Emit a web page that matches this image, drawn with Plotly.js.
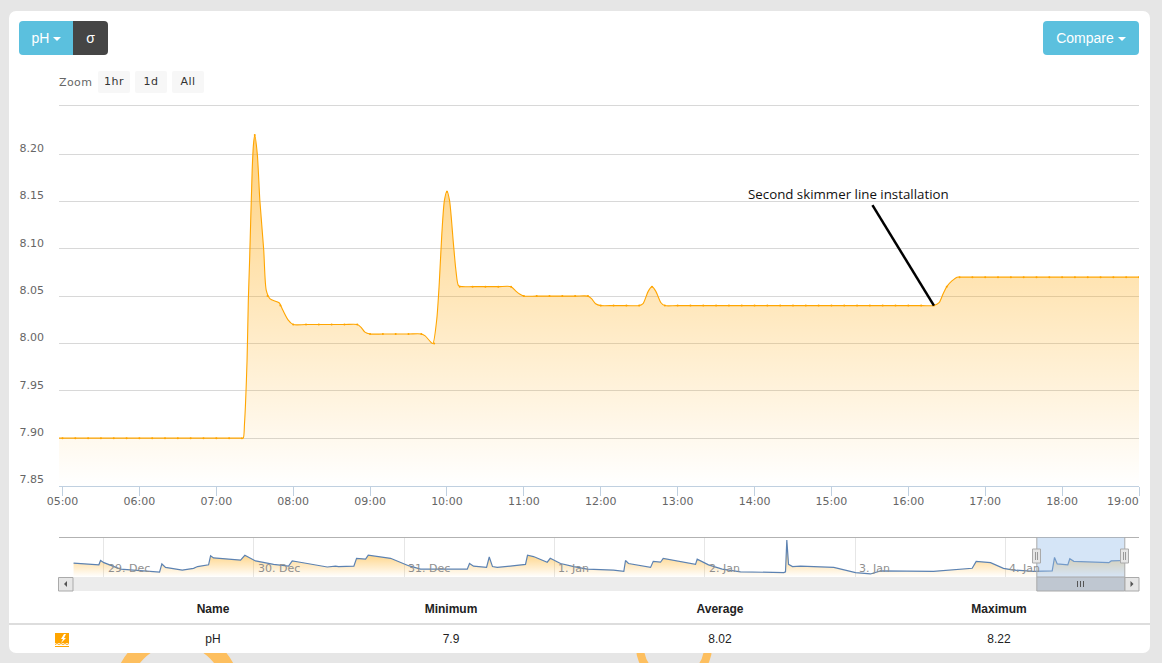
<!DOCTYPE html>
<html>
<head>
<meta charset="utf-8">
<script src="https://cdn.plot.ly/plotly-3.0.1.min.js"></script>
<style>
html,body{margin:0;padding:0;width:1162px;height:663px;overflow:hidden;background:#e6e6e6;font-family:"Liberation Sans",Arial,sans-serif;}
.ring{position:absolute;border-radius:50%;border-style:solid;border-color:#fdbf5f;box-sizing:border-box;}
#panel{position:absolute;left:9px;top:11px;width:1141px;height:642px;background:#fff;border-radius:7px;}
#chart{position:absolute;left:0;top:0;width:1162px;height:663px;}
.btn{position:absolute;top:21px;height:34px;line-height:34px;text-align:center;color:#fff;font-size:14px;box-sizing:border-box;}
.caret{display:inline-block;width:0;height:0;margin-left:4px;vertical-align:middle;border-top:4px solid #fff;border-left:4px solid transparent;border-right:4px solid transparent;}
.zb{position:absolute;top:71px;height:22px;width:32px;text-align:center;background:#f7f7f7;color:#333;font:11px/21px "DejaVu Sans",sans-serif;letter-spacing:.5px;border-radius:2px;}
#zl{position:absolute;left:59px;top:76px;font:11px/14px "DejaVu Sans",sans-serif;letter-spacing:.4px;color:#666;}
.hr{position:absolute;left:9px;width:1141px;height:2px;background:#ddd;top:623px;}
.cell{position:absolute;width:200px;margin-left:-100px;text-align:center;font-size:12px;color:#222;line-height:14px;}
.h{font-weight:bold;top:602px;}
.v{top:632px;}
#icon{position:absolute;left:55px;top:633px;}
</style>
</head>
<body>
<div class="ring" style="left:114px;top:629px;width:126px;height:126px;border-width:16px;"></div>
<div class="ring" style="left:636px;top:609px;width:76px;height:76px;border-width:8px;"></div>
<div id="panel"></div>
<div id="chart"></div>
<div class="btn" style="left:19px;width:54px;background:#5bc0de;border-radius:4px 0 0 4px;padding-left:1px;">pH<span class="caret"></span></div>
<div class="btn" style="left:73px;width:35px;background:#454545;border-radius:0 4px 4px 0;">σ</div>
<div class="btn" style="left:1043px;width:96px;background:#5bc0de;border-radius:4px;">Compare<span class="caret"></span></div>
<div id="zl">Zoom</div>
<div class="zb" style="left:98px;">1hr</div>
<div class="zb" style="left:135px;">1d</div>
<div class="zb" style="left:172px;">All</div>
<div class="hr"></div>
<div id="table"></div>
<svg id="icon" width="15" height="14" viewBox="0 0 15 14"><rect x="0" y="0" width="14" height="10" fill="#ffa500"/><path d="M9 1L6 6h2L6 10l5-5H9l2-4z" fill="#fff"/><path d="M0 11.5l2-1 2 1 2-1 2 1 2-1 2 1 2-1" stroke="#ffa500" fill="none"/><rect x="0" y="13" width="14" height="1" fill="#ffa500"/></svg>
<script>
// ---------- main series: logged points (10 min) ----------
const mainDay = "2016-01-04 ";
const mainTimes = ["04:50","05:00","05:10","05:20","05:30","05:40","05:50","06:00","06:10","06:20","06:30","06:40","06:50","07:00","07:10","07:20","07:30","07:40","07:50","08:00","08:10","08:20","08:30","08:40","08:50","09:00","09:10","09:20","09:30","09:40","09:50","10:00","10:10","10:20","10:30","10:40","10:50","11:00","11:10","11:20","11:30","11:40","11:50","12:00","12:10","12:20","12:30","12:40","12:50","13:00","13:10","13:20","13:30","13:40","13:50","14:00","14:10","14:20","14:30","14:40","14:50","15:00","15:10","15:20","15:30","15:40","15:50","16:00","16:10","16:20","16:30","16:40","16:50","17:00","17:10","17:20","17:30","17:40","17:50","18:00","18:10","18:20","18:30","18:40","18:50","19:00"];
const mainPH = [7.9,7.9,7.9,7.9,7.9,7.9,7.9,7.9,7.9,7.9,7.9,7.9,7.9,7.9,7.9,7.9,8.22,8.05,8.04,8.02,8.02,8.02,8.02,8.02,8.02,8.01,8.01,8.01,8.01,8.01,8.0,8.16,8.06,8.06,8.06,8.06,8.06,8.05,8.05,8.05,8.05,8.05,8.05,8.04,8.04,8.04,8.04,8.06,8.04,8.04,8.04,8.04,8.04,8.04,8.04,8.04,8.04,8.04,8.04,8.04,8.04,8.04,8.04,8.04,8.04,8.04,8.04,8.04,8.04,8.04,8.06,8.07,8.07,8.07,8.07,8.07,8.07,8.07,8.07,8.07,8.07,8.07,8.07,8.07,8.07,8.07];
// ---------- main series: drawn curve ----------
const curveTimes = ["04:50","07:10","07:19","07:21","07:22","07:24","07:25","07:26","07:28","07:29","07:30","07:32","07:34","07:37","07:39","07:42","07:49","07:52","07:56","08:00","08:10","08:40","08:50","08:53","08:56","09:00","09:10","09:30","09:40","09:43","09:47","09:49","09:52","09:54","09:56","09:58","10:00","10:02","10:05","10:07","10:09","10:12","10:20","10:40","10:50","10:54","10:57","11:00","11:10","11:40","11:50","11:53","11:56","12:00","12:10","12:20","12:30","12:33","12:37","12:40","12:43","12:47","12:50","13:00","16:10","16:20","16:24","16:27","16:30","16:34","16:38","16:42","16:50","19:00"];
const curvePH = [7.9,7.9,7.9,7.9,7.915,7.982,8.046,8.088,8.183,8.21,8.22,8.2,8.151,8.099,8.056,8.047,8.043,8.035,8.025,8.02,8.02,8.02,8.02,8.017,8.012,8.01,8.01,8.01,8.01,8.008,8.002,8.0,8.025,8.064,8.116,8.151,8.161,8.151,8.106,8.077,8.061,8.06,8.06,8.06,8.06,8.055,8.052,8.05,8.05,8.05,8.05,8.047,8.042,8.04,8.04,8.04,8.04,8.042,8.055,8.06,8.055,8.043,8.04,8.04,8.04,8.04,8.043,8.052,8.06,8.066,8.07,8.07,8.07,8.07];
const xTickTimes = ["05:00","06:00","07:00","08:00","09:00","10:00","11:00","12:00","13:00","14:00","15:00","16:00","17:00","18:00","19:00"];
const yTickVals = [7.85,7.9,7.95,8.0,8.05,8.1,8.15,8.2];
const yTickText = ["7.85","7.90","7.95","8.00","8.05","8.10","8.15","8.20"];
const mainRangeTimes = ["04:57:16","19:00"];
const mainRangeY = [7.8495,8.2518];

// ---------- annotation ----------
const noteText = "Second skimmer line installation";
const noteTextAt = ["15:13",8.158];
const noteLineFrom = ["15:32",8.146];
const noteLineTo = ["16:20",8.04];

// ---------- navigator series (hours after 29 Dec 00:00, pH) ----------
const navHours = [-4.79,-0.75,-0.48,0.05,2.71,4.79,7.03,8.94,9.31,9.9,12.57,14.37,15.01,16.77,17.09,17.56,21.88,22.56,24.27,27.15,29.54,30.13,30.93,35.72,37.05,37.52,39.97,40.4,41.84,42.27,45.83,47.42,48.7,50.62,58.08,58.44,59.08,61.16,61.59,62.11,62.87,67.38,67.7,68.66,70.85,71.33,72.97,75.1,77.24,81.44,83.08,83.35,83.83,87.35,87.78,88.94,89.37,94.53,94.8,96.61,98.79,101.72,108.63,108.9,109.11,109.38,110.02,111.3,116.61,120.08,122.47,124.07,132.53,138.71,139.35,141.64,143.71,145.31,148.5,151.49,151.86,152.29,153.98,154.3,154.94,160.53,160.91,163.08];
const navPH = [8.08,8.04,8.14,8.09,7.94,7.92,7.90,7.87,8.06,7.98,7.92,7.96,8.00,8.04,8.25,8.20,8.15,8.26,8.13,8.05,8.01,8.13,8.11,7.99,8.01,8.00,8.01,8.19,8.17,8.26,8.19,8.10,8.02,7.94,7.94,8.07,8.01,7.98,8.22,8.00,7.98,8.05,8.26,8.23,8.10,8.19,8.07,8.00,7.94,7.92,7.89,8.14,8.07,7.98,8.12,8.10,8.19,8.05,8.17,8.04,7.94,7.88,7.86,7.88,8.61,8.05,8.00,8.01,7.98,7.86,7.83,7.90,7.89,7.96,8.12,8.09,7.96,7.92,7.89,7.90,8.21,8.06,8.04,8.18,8.12,8.09,8.13,8.14];
const navTickDays = ["2015-12-29","2015-12-30","2015-12-31","2016-01-01","2016-01-02","2016-01-03","2016-01-04"];
const navTickText = ["29. Dec","30. Dec","31. Dec","1. Jan","2. Jan","3. Jan","4. Jan"];
const navRange = ["2015-12-28 16:53","2016-01-04 21:21"];
const navY = [7.76,8.68];
const navSelect = ["2016-01-04 05:02","2016-01-04 19:05"];

// ---------- stats table ----------
const statHeads = ["Name","Minimum","Average","Maximum"];
const statRow = ["pH","7.9","8.02","8.22"];
const statCols = [213,451,720,999];

const tb = document.getElementById('table');
statHeads.forEach((t,i)=>{ tb.insertAdjacentHTML('beforeend',`<div class="cell h" style="left:${statCols[i]}px">${t}</div>`); });
statRow.forEach((t,i)=>{ tb.insertAdjacentHTML('beforeend',`<div class="cell v" style="left:${statCols[i]}px">${t}</div>`); });

const M = {l:59,r:23,t:105,b:72};
const W = 1162, H = 663;
const fx = p => (p-M.l)/(W-M.l-M.r);
const fy = p => (H-M.b-p)/(H-M.t-M.b);
const full = t => mainDay + t;
const navDate = h => new Date(Date.UTC(2015,11,29) + h*3600000).toISOString().replace('T',' ').slice(0,19);

function box(x0,y0,x1,y1,fill,line){
  return {type:'rect',xref:'paper',yref:'paper',x0:fx(x0),x1:fx(x1),y0:fy(y0),y1:fy(y1),fillcolor:fill,line:{color:line||'rgba(0,0,0,0)',width:line?1:0},layer:'above'};
}
function seg(x0,y0,x1,y1,color,w){
  return {type:'line',xref:'paper',yref:'paper',x0:fx(x0),x1:fx(x1),y0:fy(y0),y1:fy(y1),line:{color:color,width:w||1},layer:'above'};
}
function tri(pts,color){
  return {type:'path',xref:'paper',yref:'paper',path:'M'+pts.map(p=>fx(p[0])+','+fy(p[1])).join('L')+'Z',fillcolor:color,line:{width:0},layer:'above'};
}

const shapes = [
  seg(59,105.5,1139,105.5,'#d8d8d8',1),
  // navigator top line + scrollbar
  seg(59,537.5,1139,537.5,'#b2b2b2',1),
  box(59,577,1139,591,'#ececec'),
  {type:'rect',xref:'x2',yref:'paper',x0:navSelect[0],x1:navSelect[1],y0:fy(537.5),y1:fy(577),fillcolor:'rgba(150,190,235,0.40)',line:{width:0},layer:'above'},
  {type:'rect',xref:'x2',yref:'paper',x0:navSelect[0],x1:navSelect[1],y0:fy(577),y1:fy(591),fillcolor:'#bfc7d1',line:{color:'#a9a9a9',width:1},layer:'above'},
  {type:'line',xref:'x2',yref:'paper',x0:navSelect[0],x1:navSelect[0],y0:fy(537.5),y1:fy(577),line:{color:'#aaa',width:1},layer:'above'},
  {type:'line',xref:'x2',yref:'paper',x0:navSelect[1],x1:navSelect[1],y0:fy(537.5),y1:fy(577),line:{color:'#aaa',width:1},layer:'above'},
  // handles
  box(1032.5,549,1040.5,563,'#e6e6e6','#aaa'),
  seg(1035.5,552,1035.5,560,'#999',1), seg(1037.5,552,1037.5,560,'#999',1),
  box(1120.5,549,1128.5,563,'#e6e6e6','#aaa'),
  seg(1123.5,552,1123.5,560,'#999',1), seg(1125.5,552,1125.5,560,'#999',1),
  // scroll buttons
  box(58.5,577.5,73,591,'#e6e6e6','#aaa'),
  tri([[67,581],[67,587],[64,584]],'#555'),
  box(1125,577.5,1139,591,'#e6e6e6','#aaa'),
  tri([[1130.5,581],[1130.5,587],[1133.5,584]],'#555'),
  // thumb grip
  seg(1077.5,581,1077.5,587,'#555',1), seg(1080.5,581,1080.5,587,'#555',1), seg(1083.5,581,1083.5,587,'#555',1),
  // annotation leader
  {type:'line',xref:'x',yref:'y',x0:full(noteLineFrom[0]),y0:noteLineFrom[1],x1:full(noteLineTo[0]),y1:noteLineTo[1],line:{color:'#000',width:2.5},layer:'above'}
];

const annotations = [
  {xref:'x',yref:'y',x:full(noteTextAt[0]),y:noteTextAt[1],text:noteText,showarrow:false,xanchor:'center',yanchor:'middle',font:{family:'"Open Sans",sans-serif',size:13.3,color:'#111'}},
  {xref:'x',yref:'paper',x:full(xTickTimes[xTickTimes.length-1]),y:fy(501),text:xTickTimes[xTickTimes.length-1],showarrow:false,xanchor:'right',yanchor:'middle',xshift:2,font:{family:'"DejaVu Sans",sans-serif',size:11,color:'#666'}}
];
navTickDays.forEach((d,i)=>{
  annotations.push({xref:'x2',yref:'paper',x:d,y:fy(568.5),text:navTickText[i],showarrow:false,xanchor:'left',yanchor:'middle',xshift:2,font:{family:'"DejaVu Sans",sans-serif',size:11,color:'#8f8f8f'}});
});

const traces = [
  {type:'scatter',mode:'lines',x:curveTimes.map(full),y:curvePH,xaxis:'x',yaxis:'y',
   line:{color:'#ffa500',width:1.1,shape:'spline',smoothing:0.7},
   fill:'tozeroy',fillcolor:'rgba(255,165,0,0.3)',
   fillgradient:{type:'vertical',start:7.85,stop:8.25,colorscale:[[0,'rgba(255,165,0,0)'],[1,'rgba(255,165,0,0.55)']]},
   hoverinfo:'skip'},
  {type:'scatter',mode:'markers',x:mainTimes.map(full),y:mainPH,xaxis:'x',yaxis:'y',
   marker:{color:'#ffa500',size:2},hoverinfo:'skip'},
  {type:'scatter',mode:'lines',x:navHours.map(navDate),y:navPH,xaxis:'x2',yaxis:'y2',
   line:{color:'#5c82b2',width:1.2},
   fill:'tozeroy',fillcolor:'rgba(255,165,0,0.2)',
   fillgradient:{type:'vertical',start:7.76,stop:8.26,colorscale:[[0,'rgba(255,165,0,0)'],[1,'rgba(255,165,0,0.45)']]},
   hoverinfo:'skip'}
];

const layout = {
  width:W,height:H,margin:M,showlegend:false,
  paper_bgcolor:'rgba(0,0,0,0)',plot_bgcolor:'rgba(0,0,0,0)',
  font:{family:'"DejaVu Sans",sans-serif',size:11,color:'#666'},
  xaxis:{type:'date',domain:[0,1],anchor:'y',range:[full(mainRangeTimes[0]),full(mainRangeTimes[1])],
    tickmode:'array',tickvals:xTickTimes.map(full),
    ticktext:xTickTimes.map((t,i)=>i===xTickTimes.length-1?'':t),
    ticks:'outside',ticklen:9,tickwidth:1,tickcolor:'#c0d0e0',showline:true,linecolor:'#c0d0e0',linewidth:1,showgrid:false,zeroline:false,
    ticklabelstandoff:-4,
    tickfont:{family:'"DejaVu Sans",sans-serif',size:11,color:'#666'}},
  yaxis:{domain:[fy(486),1],anchor:'x',range:mainRangeY,tickmode:'array',tickvals:yTickVals,ticktext:yTickText,
    showgrid:true,gridcolor:'#d8d8d8',gridwidth:1,zeroline:false,showline:false,ticks:'',
    ticklabelstandoff:14,ticklabelshift:-6,
    tickfont:{family:'"DejaVu Sans",sans-serif',size:11,color:'#666'}},
  xaxis2:{type:'date',domain:[0,1],anchor:'y2',range:navRange,tickmode:'array',tickvals:navTickDays,ticktext:navTickDays.map(()=>''),
    showgrid:true,gridcolor:'#e6e6e6',gridwidth:1,zeroline:false,showline:false,ticks:''},
  yaxis2:{domain:[fy(577),fy(537)],anchor:'x2',range:navY,showticklabels:false,showgrid:false,zeroline:false,ticks:''},
  shapes:shapes,annotations:annotations
};
Plotly.newPlot('chart',traces,layout,{displayModeBar:false,staticPlot:true});
</script>
</body>
</html>
